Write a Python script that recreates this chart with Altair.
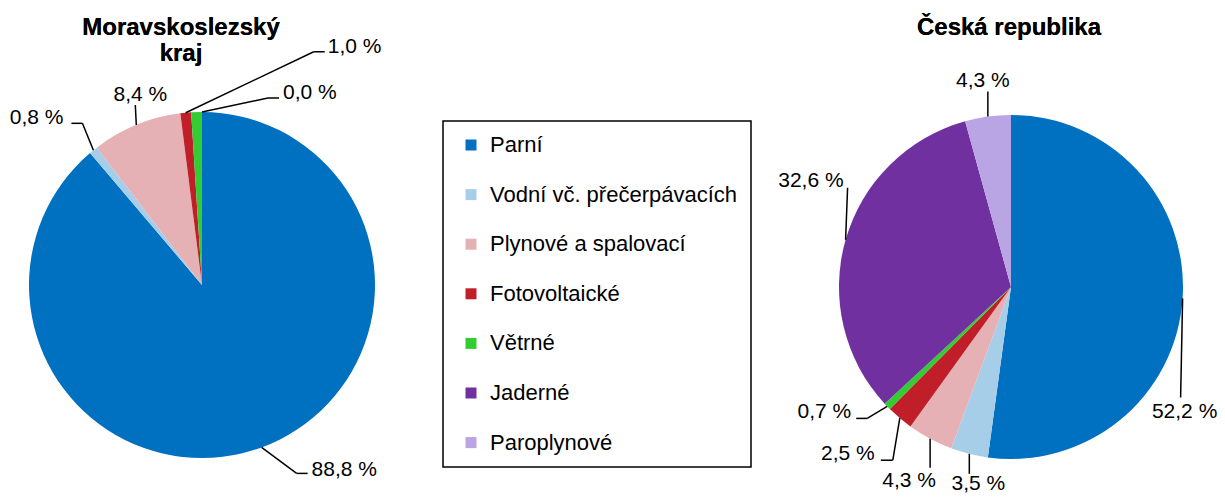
import altair as alt
import pandas as pd

# ---------------- data ----------------
categories = ["Parní", "Vodní vč. přečerpávacích", "Plynové a spalovací",
              "Fotovoltaické", "Větrné", "Jaderné", "Paroplynové"]
colors = ["#0070C0", "#A6CEE8", "#E6B1B4", "#C01F2A", "#33CC33", "#7030A0", "#B9A4E4"]

msk_values = [88.8, 0.8, 8.4, 1.0, 1.0, 0.0, 0.0]
msk_labels = ["88,8 %", "0,8 %", "8,4 %", "1,0 %", "", "0,0 %", ""]

cr_values = [52.2, 3.5, 4.3, 2.5, 0.7, 32.6, 4.3]
cr_labels = ["52,2 %", "3,5 %", "4,3 %", "2,5 %", "0,7 %", "32,6 %", "4,3 %"]

msk_title = ["Moravskoslezský", "kraj"]
cr_title = "Česká republika"

# ---------------- layout / style ----------------
FONT = "Liberation Sans"
PIE = {"msk": dict(cx=194, cy=277, r=173), "cr": dict(cx=1003, cy=279, r=172)}

# leader-line styling per label: elbow offset (ex, ey) from the slice edge,
# horizontal tail length, label offset (lx, ly) from the slice edge, alignment
LEADERS = {
    ("msk", 0): (35, 26, 11, 50, 23, "left"),
    ("msk", 1): (-11, -27, -11, -30, -32, "right"),
    ("msk", 2): (-1, -20, 0, 4, -30, "center"),
    ("msk", 3): (128, -61, 11, 142, -66, "left"),
    ("msk", 5): (66, -14, 11, 81, -19, "left"),
    ("cr", 0): (-2, 99, 0, 2, 113, "center"),
    ("cr", 1): (0, 20, 0, 9, 30, "center"),
    ("cr", 2): (0, 29, 0, -21, 42, "center"),
    ("cr", 3): (-7, 42, -12, -25, 36, "right"),
    ("cr", 4): (-20, 12, -11, -36, 6, "right"),
    ("cr", 5): (2, -52, 0, -2, -59, "right"),
    ("cr", 6): (0, -25, 0, -5, -36, "center"),
}

rows = []
for pie, vals, labs in (("msk", msk_values, msk_labels), ("cr", cr_values, cr_labels)):
    for i, (c, v, l) in enumerate(zip(categories, vals, labs)):
        ex, ey, tail, lx, ly, al = LEADERS.get((pie, i), (0, 0, 0, 0, 0, "left"))
        rows.append(dict(pie=pie, cat=c, ord=i, value=v, label=l,
                         ex=ex, ey=ey, tail=tail, lx=lx, ly=ly, align=al))
df = pd.DataFrame(rows)

color = alt.Color(
    "cat:N",
    scale=alt.Scale(domain=categories, range=colors),
    sort=categories,
    legend=alt.Legend(
        title=None, orient="none", legendX=435, legendY=113,
        symbolType="square", symbolSize=121, symbolStrokeWidth=0,
        labelFont=FONT, labelFontSize=22, labelColor="black", labelLimit=400,
        labelOffset=8, rowPadding=27.6, padding=13, symbolOffset=4,
        strokeColor="black", fillColor="white",
    ),
)


def arc_layer(pie):
    p = PIE[pie]
    return (
        alt.Chart(df)
        .transform_filter(f"datum.pie == '{pie}'")
        .mark_arc(outerRadius=p["r"])
        .encode(
            theta=alt.Theta("value:Q", stack=True),
            color=color,
            order=alt.Order("ord:Q", sort="ascending"),
            x=alt.value(p["cx"]),
            y=alt.value(p["cy"]),
        )
    )


def cond(key):
    return f"datum.pie == 'msk' ? {PIE['msk'][key]} : {PIE['cr'][key]}"


geo = (
    alt.Chart(df)
    .transform_joinaggregate(total="sum(value)", groupby=["pie"])
    .transform_window(cum="sum(value)", groupby=["pie"],
                      sort=[alt.SortField("ord", order="ascending")], frame=[None, 0])
    .transform_calculate(cx=cond("cx"), cy=cond("cy"), r=cond("r"))
    .transform_calculate(ang="2*PI*(datum.cum - datum.value/2)/datum.total")
    .transform_calculate(ax="datum.cx + datum.r*sin(datum.ang)",
                         ay="datum.cy - datum.r*cos(datum.ang)")
    .transform_filter("datum.label != null && datum.label.length > 0")
    .transform_calculate(bx="datum.ax + datum.ex", by="datum.ay + datum.ey",
                         tx="datum.ax + datum.ex + datum.tail",
                         px="datum.ax + datum.lx", py="datum.ay + datum.ly")
)

lead1 = geo.mark_rule(color="black", strokeWidth=1.5).encode(
    x=alt.X("ax:Q", scale=None), y=alt.Y("ay:Q", scale=None),
    x2="bx:Q", y2="by:Q")
lead2 = geo.mark_rule(color="black", strokeWidth=1.5).encode(
    x=alt.X("bx:Q", scale=None), y=alt.Y("by:Q", scale=None),
    x2="tx:Q", y2="by:Q")


def label_layer(al):
    return geo.transform_filter(f"datum.align == '{al}'").mark_text(
        align=al, baseline="middle", font=FONT, fontSize=21, color="black"
    ).encode(x=alt.X("px:Q", scale=None), y=alt.Y("py:Q", scale=None), text="label:N")


title1 = alt.Chart(df).transform_filter("datum.ord == 0").mark_text(
    align="center", baseline="alphabetic", font=FONT, fontSize=24, fontWeight="bold",
    lineHeight=26, color="black"
).encode(x=alt.value(173), y=alt.value(27), text=alt.value(msk_title))

title2 = alt.Chart(df).transform_filter("datum.ord == 0").mark_text(
    align="center", baseline="alphabetic", font=FONT, fontSize=24, fontWeight="bold",
    color="black"
).encode(x=alt.value(1001), y=alt.value(27), text=alt.value(cr_title))

chart = (
    alt.layer(
        arc_layer("msk"), arc_layer("cr"), lead1, lead2,
        label_layer("left"), label_layer("right"), label_layer("center"),
        title1, title2,
    )
    .resolve_scale(theta="independent")
    .properties(width=1209, height=486, padding=0, autosize=alt.AutoSizeParams(type="none"))
    .configure_view(stroke=None)
    .configure_legend(strokeWidth=1.5)
)

chart.save("out.html", embed_options={"renderer": "svg", "actions": False})
